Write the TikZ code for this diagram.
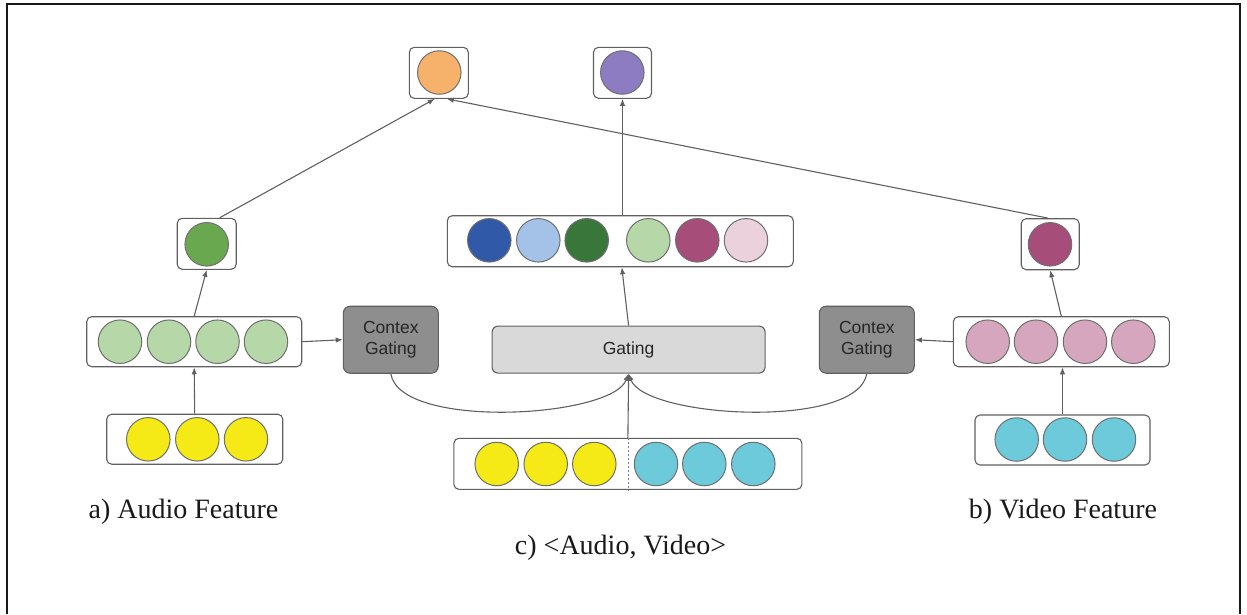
\documentclass[tikz,border=0pt]{standalone}
\usepackage{fontspec}
\setmainfont{Liberation Serif}
\setsansfont{Liberation Sans}
\usetikzlibrary{arrows.meta,calc}
\definecolor{lineg}{HTML}{606060}
\definecolor{circg}{HTML}{6F6F6F}
\definecolor{corange}{HTML}{F6B26B}
\definecolor{cpurple}{HTML}{8E7CC3}
\definecolor{cgreen}{HTML}{6AA84F}
\definecolor{clgreen}{HTML}{B6D7A8}
\definecolor{cyellow}{HTML}{F5E916}
\definecolor{ccyan}{HTML}{6CCADA}
\definecolor{cpink}{HTML}{D5A6BD}
\definecolor{cmag}{HTML}{A64D79}
\definecolor{cdblue}{HTML}{3059A8}
\definecolor{clblue}{HTML}{A4C2E8}
\definecolor{cdgreen}{HTML}{38763A}
\definecolor{clpink}{HTML}{EAD1DC}
\definecolor{cgate}{HTML}{8E8E8E}
\definecolor{cgatel}{HTML}{D9D9D9}
\begin{document}
\begin{tikzpicture}[x=1pt,y=-1pt,
  box/.style={draw=lineg,line width=1.1pt,rounded corners=5pt,fill=white,inner sep=0pt},
  dot/.style={circle,draw=circg,line width=1pt,minimum size=43.5pt,inner sep=0pt},
  cgbox/.style={draw=lineg,line width=1.1pt,rounded corners=7pt,fill=cgate,minimum width=95pt,minimum height=67pt,
    align=center,font=\sffamily\fontsize{17.5}{20.5}\selectfont,text=black!85},
  arr/.style={draw=lineg,line width=1.1pt,-{Latex[length=7pt,width=5.5pt]}},
  lbl/.style={font=\fontsize{28}{32}\selectfont,text=black!90}]
\useasboundingbox (0,0) rectangle (1247,614);
\draw[line width=2pt,black!90] (7,614) -- (7,4) -- (1240,4) -- (1240,614);

% top output boxes
\node[box,minimum width=59pt,minimum height=51pt] (obox) at (438.8,72.8) {};
\node[dot,fill=corange] (oc) at (439.3,72.5) {};
\node[box,minimum width=58pt,minimum height=51pt] (pbox) at (622.5,72.8) {};
\node[dot,fill=cpurple] (pc) at (622.3,72.5) {};

% audio side
\node[box,minimum width=59pt,minimum height=51pt] (gbox) at (206.7,243.8) {};
\node[dot,fill=cgreen] (gc) at (206.7,244.3) {};
\node[box,minimum width=215pt,minimum height=50pt] (abox) at (194.2,341.7) {};
\foreach \x/\n in {120/1,169/2,217.5/3,266/4}
  \node[dot,fill=clgreen] (ag\n) at (\x,341.7) {};
\node[box,minimum width=176pt,minimum height=50pt] (ybox) at (194.7,439.2) {};
\foreach \x/\n in {148.3/1,197.3/2,246/3}
  \node[dot,fill=cyellow] (ay\n) at (\x,439.3) {};
\node[cgbox] (lcg) at (390.8,339.7) {Contex\\Gating};

% video side
\node[box,minimum width=58pt,minimum height=51pt] (vtop) at (1050.2,244.2) {};
\node[dot,fill=cmag] (vc) at (1050,244.3) {};
\node[box,minimum width=216pt,minimum height=50pt] (vbox) at (1061.3,341.7) {};
\foreach \x/\n in {987.7/1,1036/2,1085/3,1133.3/4}
  \node[dot,fill=cpink] (vp\n) at (\x,341.7) {};
\node[box,minimum width=175pt,minimum height=50pt] (cybox) at (1062.5,440) {};
\foreach \x/\n in {1016.7/1,1065/2,1114/3}
  \node[dot,fill=ccyan] (vy\n) at (\x,439.5) {};
\node[cgbox] (rcg) at (866.8,339.7) {Contex\\Gating};

% center
\node[box,minimum width=346pt,minimum height=51pt] (cbox) at (620.3,241.2) {};
\foreach \x/\c/\n in {489.3/cdblue/1,538.3/clblue/2,586.7/cdgreen/3,648.3/clgreen/4,697.3/cmag/5,746/clpink/6}
  \node[dot,fill=\c] (cc\n) at (\x,240.3) {};
\node[draw=lineg,line width=1.1pt,rounded corners=6pt,fill=cgatel,minimum width=273pt,minimum height=47pt,
  font=\sffamily\fontsize{17.5}{20}\selectfont,text=black!85] (gating) at (628.6,349.6) {Gating};
\node[box,minimum width=348pt,minimum height=51pt] (concat) at (627.9,463.8) {};
\foreach \x/\n in {496.7/1,545.7/2,594.3/3}
  \node[dot,fill=cyellow] (ky\n) at (\x,464) {};
\foreach \x/\n in {656/1,704.3/2,753.3/3}
  \node[dot,fill=ccyan] (kc\n) at (\x,464) {};
\draw[lineg!80,line width=0.7pt,dash pattern=on 2pt off 2pt] (concat.north) -- (concat.south);

% connectors
\draw[arr] (ybox.north) -- (abox.south);
\draw[arr] (abox.north) -- (gbox.south);
\draw[arr] (abox.east) -- (lcg.west);
\draw[arr] ($(gbox.north)+(13,0)$) -- ($(obox.south)+(-4,0)$);
\draw[arr] (cybox.north) -- (cybox.north |- vbox.south);
\draw[arr] (vbox.north) -- (vtop.south);
\draw[arr] (vbox.west) -- (rcg.east);
\draw[arr] ($(vtop.north)+(-2,0)$) -- ($(obox.south)+(8,0)$);
\draw[arr] (concat.north) -- (gating.south);
\draw[arr] (gating.north) -- ($(cbox.south)+(1.5,0)$);
\draw[arr] (pbox.south |- cbox.north) -- (pbox.south);
\draw[arr] (lcg.south) .. controls (400,430) and (612,418) .. (gating.south);
\draw[arr] (rcg.south) .. controls (857,430) and (645,418) .. (gating.south);

% labels
\node[lbl] (la) at (183.5,512) {a) Audio Feature};
\node[lbl] (lb) at (1063,512) {b) Video Feature};
\node[lbl] (lc) at (620.5,548) {c) <Audio, Video>};
\end{tikzpicture}
\end{document}
